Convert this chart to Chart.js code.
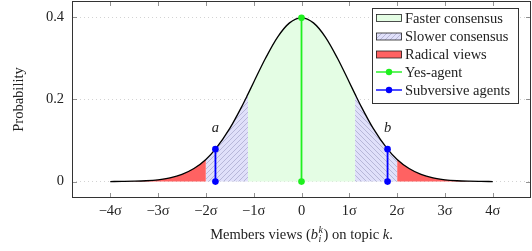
<!DOCTYPE html>
<html>
<head>
<meta charset="utf-8">
<script src="https://cdn.jsdelivr.net/npm/chart.js@4.4.0/dist/chart.umd.min.js"></script>
<style>
  html, body { margin: 0; padding: 0; background: #fff; }
  #wrap { width: 532px; height: 251px; }
</style>
</head>
<body>
<div id="wrap"><canvas id="myChart" width="532" height="251"></canvas></div>
<script>
// Bell curve (x in sigma units, y = probability)
const curveX = [-4, -3.75, -3.5, -3.25, -3, -2.75, -2.5, -2.25, -2, -1.8, -1.5, -1.25, -1.12, -1, -0.75, -0.5, -0.25,
                0, 0.25, 0.5, 0.75, 1, 1.12, 1.25, 1.5, 1.8, 2, 2.25, 2.5, 2.75, 3, 3.25, 3.5, 3.75, 4];
const curveY = [0.0001, 0.0004, 0.0009, 0.0020, 0.0044, 0.0091, 0.0175, 0.0317, 0.0540, 0.0790, 0.1295, 0.1826, 0.2131, 0.2420, 0.3011, 0.3521, 0.3867,
                0.3989, 0.3867, 0.3521, 0.3011, 0.2420, 0.2131, 0.1826, 0.1295, 0.0790, 0.0540, 0.0317, 0.0175, 0.0091, 0.0044, 0.0020, 0.0009, 0.0004, 0.0001];

// shaded ranges
const fasterRange = [-1.12, 1.12];
const slowerLeft = [-2, -1.12];
const slowerRight = [1.12, 2];
const radicalLeft = [-4, -2];
const radicalRight = [2, 4];

// agents
const yesAgentX = [0, 0];
const yesAgentY = [0, 0.3989];
const subversiveA_X = [-1.8, -1.8];
const subversiveA_Y = [0, 0.079];
const subversiveB_X = [1.8, 1.8];
const subversiveB_Y = [0, 0.079];

const xTicks = [-4, -3, -2, -1, 0, 1, 2, 3, 4];
const yTicks = [0, 0.2, 0.4];
const legendLabels = ['Faster consensus', 'Slower consensus', 'Radical views', 'Yes-agent', 'Subversive agents'];

const serif = "'Liberation Serif', 'Times New Roman', serif";
Chart.defaults.font.family = serif;
Chart.defaults.font.size = 14.5;
Chart.defaults.color = '#222';

const canvas = document.getElementById('myChart');
const ctx = canvas.getContext('2d');

const green = 'rgb(30,240,30)';
const greenFill = 'rgb(228,253,228)';
const blue = 'rgb(0,0,255)';
const redFill = 'rgb(255,98,98)';

function makeHatch(dir) {
    const s = 5;
    const c = document.createElement('canvas');
    c.width = s; c.height = s;
    const g = c.getContext('2d');
    g.fillStyle = 'rgb(224,224,250)';
    g.fillRect(0, 0, s, s);
    g.strokeStyle = 'rgb(172,172,208)';
    g.lineWidth = 0.8;
    g.beginPath();
    if (dir > 0) {
        g.moveTo(-1, s + 1); g.lineTo(s + 1, -1);
        g.moveTo(-1, 1); g.lineTo(1, -1);
        g.moveTo(s - 1, s + 1); g.lineTo(s + 1, s - 1);
    } else {
        g.moveTo(-1, -1); g.lineTo(s + 1, s + 1);
        g.moveTo(s - 1, -1); g.lineTo(s + 1, 1);
        g.moveTo(-1, s - 1); g.lineTo(1, s + 1);
    }
    g.stroke();
    return ctx.createPattern(c, 'repeat');
}
const hatchNE = makeHatch(1);
const hatchNW = makeHatch(-1);

function pts(xs, ys) {
    return xs.map((x, i) => ({ x: x, y: ys[i] }));
}
function region(range) {
    return pts(curveX, curveY).filter(p => p.x >= range[0] - 1e-9 && p.x <= range[1] + 1e-9);
}
function fillSet(range, bg) {
    return {
        data: region(range),
        fill: 'origin',
        backgroundColor: bg,
        borderWidth: 0,
        pointRadius: 0,
        cubicInterpolationMode: 'monotone',
        order: 3
    };
}
function agentSet(xs, ys, color) {
    return {
        data: pts(xs, ys),
        borderColor: color,
        backgroundColor: color,
        borderWidth: 1.8,
        pointRadius: 3.3,
        pointBorderWidth: 0,
        fill: false,
        clip: false,
        order: 0
    };
}

// frame, inward ticks, legend, labels a/b and the x title
const extras = {
    id: 'extras',
    afterDraw(chart) {
        const c = chart.ctx;
        const a = chart.chartArea;
        const xs = chart.scales.x, ys = chart.scales.y;
        c.save();

        // inward ticks
        c.strokeStyle = '#777';
        c.lineWidth = 0.8;
        c.beginPath();
        xTicks.forEach(t => {
            const px = Math.round(xs.getPixelForValue(t)) + 0.5;
            c.moveTo(px, a.bottom); c.lineTo(px, a.bottom - 5);
            c.moveTo(px, a.top); c.lineTo(px, a.top + 5);
        });
        yTicks.forEach(t => {
            const py = Math.round(ys.getPixelForValue(t)) + 0.5;
            c.moveTo(a.left, py); c.lineTo(a.left + 5, py);
            c.moveTo(a.right, py); c.lineTo(a.right - 5, py);
        });
        c.stroke();

        // frame
        c.strokeStyle = '#333';
        c.lineWidth = 1;
        c.strokeRect(a.left + 0.5, a.top + 0.5, a.right - a.left - 1, a.bottom - a.top - 1);

        // a / b labels
        c.font = 'italic 14.5px ' + serif;
        c.fillStyle = '#222';
        c.textAlign = 'center';
        c.textBaseline = 'middle';
        c.fillText('a', xs.getPixelForValue(subversiveA_X[1]), ys.getPixelForValue(subversiveA_Y[1]) - 21);
        c.fillText('b', xs.getPixelForValue(subversiveB_X[1]), ys.getPixelForValue(subversiveB_Y[1]) - 21);

        // legend
        const lx = 372, ly = 8, lw = 146, lh = 95;
        c.fillStyle = '#fff';
        c.fillRect(lx, ly, lw, lh);
        c.strokeStyle = '#333';
        c.strokeRect(lx + 0.5, ly + 0.5, lw, lh);
        const rows = [18, 36.5, 54.5, 72, 90];
        const fills = [greenFill, hatchNE, redFill];
        c.textAlign = 'left';
        c.font = '14.5px ' + serif;
        legendLabels.forEach((lab, i) => {
            const y = rows[i];
            if (i < 3) {
                c.fillStyle = fills[i];
                c.fillRect(376, y - 3.5, 26, 7);
                c.strokeStyle = '#222';
                c.lineWidth = 0.8;
                c.strokeRect(376.5, y - 3.5, 25, 7);
            } else {
                const col = i === 3 ? green : blue;
                c.strokeStyle = col;
                c.lineWidth = 1.4;
                c.beginPath(); c.moveTo(376, y); c.lineTo(402, y); c.stroke();
                c.fillStyle = col;
                c.beginPath(); c.arc(389, y, 3.2, 0, Math.PI * 2); c.fill();
            }
            c.fillStyle = '#222';
            c.fillText(lab, 405, y + 1);
        });

        // x axis title with b_i^k
        const base = 239;
        const f = '14.5px ' + serif, fi = 'italic 14.5px ' + serif, fs = 'italic 10px ' + serif;
        const parts = [['Members views (', f], ['b', fi], ['', 'sub'], [') on topic ', f], ['k', fi], ['.', f]];
        c.font = fs;
        const supW = Math.max(c.measureText('k').width, c.measureText('i').width) + 1;
        let total = 0;
        parts.forEach(p => {
            if (p[1] === 'sub') { total += supW; return; }
            c.font = p[1]; total += c.measureText(p[0]).width;
        });
        let x = (a.left + a.right) / 2 - total / 2;
        c.textBaseline = 'alphabetic';
        parts.forEach(p => {
            if (p[1] === 'sub') {
                c.font = fs;
                c.fillText('k', x + 0.5, base - 6.5);
                c.fillText('i', x + 0.5, base + 3);
                x += supW;
                return;
            }
            c.font = p[1];
            c.fillText(p[0], x, base);
            x += c.measureText(p[0]).width;
        });
        c.restore();
    }
};

new Chart(ctx, {
    type: 'line',
    data: {
        datasets: [
            fillSet(fasterRange, greenFill),
            fillSet(slowerLeft, hatchNE),
            fillSet(slowerRight, hatchNW),
            fillSet(radicalLeft, redFill),
            fillSet(radicalRight, redFill),
            {
                data: pts(curveX, curveY),
                borderColor: '#000',
                borderWidth: 1.3,
                pointRadius: 0,
                fill: false,
                cubicInterpolationMode: 'monotone',
                order: 1
            },
            agentSet(yesAgentX, yesAgentY, green),
            agentSet(subversiveA_X, subversiveA_Y, blue),
            agentSet(subversiveB_X, subversiveB_Y, blue)
        ]
    },
    options: {
        responsive: false,
        devicePixelRatio: 1,
        animation: false,
        layout: { autoPadding: false, padding: { top: 1, right: 1, left: 0, bottom: 0 } },
        plugins: {
            legend: { display: false },
            tooltip: { enabled: false }
        },
        scales: {
            x: {
                type: 'linear',
                min: -4.8,
                max: 4.8,
                afterBuildTicks: (s) => { s.ticks = xTicks.map(v => ({ value: v })); },
                afterFit: (s) => { s.height = 53; s.paddingLeft = 0; s.paddingRight = 0; },
                grid: { display: false, drawTicks: false },
                border: { display: false },
                ticks: {
                    autoSkip: false,
                    maxRotation: 0,
                    padding: 4,
                    color: '#222',
                    callback: (v) => v === 0 ? '0' : (v < 0 ? '\u2212' + Math.abs(v) : v) + 'σ'
                }
            },
            y: {
                type: 'linear',
                min: -0.04,
                max: 0.44,
                afterBuildTicks: (s) => { s.ticks = yTicks.map(v => ({ value: v })); },
                afterFit: (s) => { s.width = 72; s.paddingTop = 0; s.paddingBottom = 0; },
                grid: { color: '#c8c8c8', lineWidth: 0.8, drawTicks: false },
                border: { display: false, dash: [1, 3] },
                ticks: {
                    padding: 8,
                    color: '#222',
                    callback: (v) => v === 0 ? '0' : String(v)
                },
                title: {
                    display: true,
                    text: 'Probability',
                    color: '#222',
                    padding: { top: 10, bottom: 0 }
                }
            }
        }
    },
    plugins: [extras]
});
</script>
</body>
</html>
